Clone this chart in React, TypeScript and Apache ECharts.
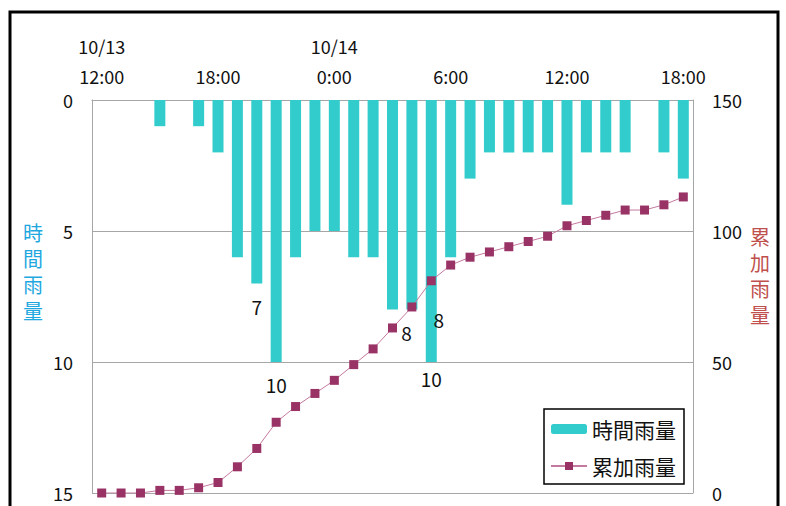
import React, { useEffect, useRef } from 'react';
import * as echarts from 'echarts';

const categories = [
  '10/13\n12:00', '13:00', '14:00', '15:00', '16:00', '17:00', '18:00', '19:00', '20:00', '21:00', '22:00', '23:00',
  '10/14\n0:00', '1:00', '2:00', '3:00', '4:00', '5:00', '6:00', '7:00', '8:00', '9:00', '10:00', '11:00',
  '12:00', '13:00', '14:00', '15:00', '16:00', '17:00', '18:00',
];
const hourlyRain = [0, 0, 0, 1, 0, 1, 2, 6, 7, 10, 6, 5, 5, 6, 6, 8, 8, 10, 6, 3, 2, 2, 2, 2, 4, 2, 2, 2, 0, 2, 3];
const cumulativeRain = [0, 0, 0, 1, 1, 2, 4, 10, 17, 27, 33, 38, 43, 49, 55, 63, 71, 81, 87, 90, 92, 94, 96, 98, 102, 104, 106, 108, 108, 110, 113];
const labeledBars = [8, 9, 15, 16, 17];
const leftAxisRange = { min: 0, max: 15, interval: 5 };
const rightAxisRange = { min: 0, max: 150, interval: 50 };
const hourlyName = '時間雨量';
const cumulativeName = '累加雨量';

// label placement per labeled bar: [distance, dx]
const labelPlacement: Record<number, [number, number]> = {
  8: [14, 0],
  9: [13, 0],
  15: [13, 14],
  16: [0, 27],
  17: [7, 0],
};

const FONT = '"Noto Sans CJK JP", "Noto Sans", sans-serif';

export default function App() {
  const ref = useRef<HTMLDivElement>(null);
  useEffect(() => {
    if (!ref.current) return;
    const chart = echarts.init(ref.current, undefined, { renderer: 'svg' });
    const barData = hourlyRain.map((v, i) => {
      if (labeledBars.includes(i)) {
        const [d, dx] = labelPlacement[i];
        return {
          value: v,
          label: {
            show: true,
            position: 'bottom',
            distance: d,
            offset: [dx, 0],
            color: '#111',
            fontSize: 19,
            fontFamily: FONT,
          },
        };
      }
      return v;
    });
    chart.setOption({
      animation: false,
      textStyle: { fontFamily: FONT },
      grid: { left: 92, right: 93, top: 100, bottom: 13 },
      graphic: [
        {
          type: 'rect',
          shape: { x: 10, y: 12, width: 768, height: 520 },
          style: { fill: 'none', stroke: '#000', lineWidth: 3 },
          silent: true,
          z: 100,
        },
      ],
      legend: {
        orient: 'vertical',
        left: 544,
        top: 409,
        padding: [9, 8, 7, 6],
        itemGap: 15,
        itemWidth: 36,
        itemHeight: 10,
        borderColor: '#000',
        borderWidth: 1.5,
        backgroundColor: '#fff',
        textStyle: { fontSize: 21, color: '#111', fontFamily: FONT, lineHeight: 22 },
        data: [hourlyName, cumulativeName],
      },
      xAxis: {
        type: 'category',
        position: 'top',
        data: categories,
        axisTick: { show: false },
        axisLine: { show: true, lineStyle: { color: '#a6a6a6', width: 1 } },
        axisLabel: {
          interval: 5,
          fontSize: 18,
          color: '#111',
          lineHeight: 30,
          margin: 9,
          fontFamily: FONT,
        },
      },
      yAxis: [
        {
          type: 'value',
          inverse: true,
          min: leftAxisRange.min,
          max: leftAxisRange.max,
          interval: leftAxisRange.interval,
          axisLine: { show: true, lineStyle: { color: '#a6a6a6' } },
          axisTick: { show: false },
          splitLine: { show: true, lineStyle: { color: '#a6a6a6', width: 1 } },
          axisLabel: { fontSize: 18, color: '#111', margin: 19, fontFamily: FONT },
          name: hourlyName.split('').join('\n') + '\n{gap| }',
          nameLocation: 'middle',
          nameRotate: 0,
          nameGap: 49,
          nameTextStyle: {
            color: '#1fa8e0',
            fontSize: 20,
            lineHeight: 26,
            fontFamily: FONT,
            rich: { gap: { fontSize: 10, height: 50, lineHeight: 50 } },
          },
        },
        {
          type: 'value',
          min: rightAxisRange.min,
          max: rightAxisRange.max,
          interval: rightAxisRange.interval,
          axisLine: { show: true, lineStyle: { color: '#a6a6a6' } },
          axisTick: { show: false },
          splitLine: { show: false },
          axisLabel: { fontSize: 18, color: '#111', margin: 19, fontFamily: FONT },
          name: cumulativeName.split('').join('\n') + '\n{gap| }',
          nameLocation: 'middle',
          nameRotate: 0,
          nameGap: 57,
          nameTextStyle: {
            color: '#c0504d',
            fontSize: 20,
            lineHeight: 26,
            fontFamily: FONT,
            rich: { gap: { fontSize: 10, height: 42, lineHeight: 42 } },
          },
        },
      ],
      series: [
        {
          name: hourlyName,
          type: 'bar',
          yAxisIndex: 0,
          data: barData,
          barWidth: 11,
          itemStyle: { color: '#33cccc' },
          z: 2,
        },
        {
          name: cumulativeName,
          type: 'line',
          yAxisIndex: 1,
          data: cumulativeRain,
          symbol: 'rect',
          symbolSize: 9,
          itemStyle: { color: '#993366' },
          lineStyle: { color: '#c4799f', width: 1 },
          z: 3,
        },
      ],
    });
    return () => chart.dispose();
  }, []);
  return (
    <div
      ref={ref}
      style={{ position: 'fixed', left: 0, top: 0, width: 786, height: 506, background: '#fff' }}
    />
  );
}
